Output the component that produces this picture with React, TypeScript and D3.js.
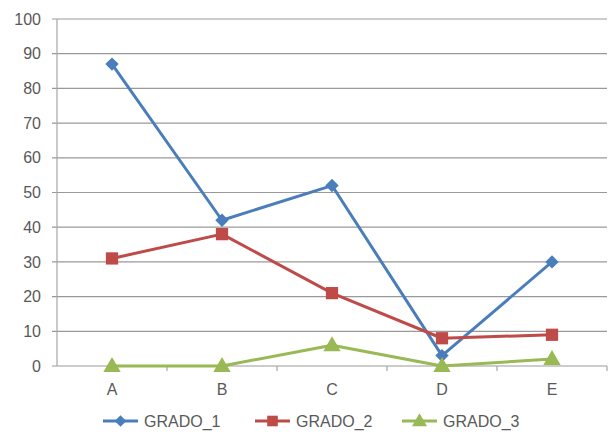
import React from "react";
import * as d3 from "d3";

const categories = ["A", "B", "C", "D", "E"];
const grado1 = [87, 42, 52, 3, 30];
const grado2 = [31, 38, 21, 8, 9];
const grado3 = [0, 0, 6, 0, 2];
const yTicks = [0, 10, 20, 30, 40, 50, 60, 70, 80, 90, 100];
const seriesNames = ["GRADO_1", "GRADO_2", "GRADO_3"];

const W = 613;
const H = 435;
const left = 57;
const right = 607;
const top = 19;
const bottom = 366;

const colors = ["#4A7EBB", "#BE4B48", "#98B954"];
// diamond is drawn as a square turned 45 degrees
const symbols = [d3.symbolSquare, d3.symbolSquare, d3.symbolTriangle];
const symbolSizes = [90, 150, 130];
const rotations = [45, 0, 0];
const FONT = "'Liberation Sans', Arial, sans-serif";

export default function App() {
  const x = d3.scaleBand<string>().domain(categories).range([left, right]);
  const y = d3.scaleLinear().domain([0, 100]).range([bottom, top]);
  const cx = (c: string) => (x(c) as number) + x.bandwidth() / 2;
  const all = [grado1, grado2, grado3];
  const line = d3
    .line<number>()
    .x((_, i) => cx(categories[i]))
    .y((v) => y(v));

  const legendX = [103, 255, 402];
  const legendY = 421;

  return (
    <svg
      width={W}
      height={H}
      style={{ position: "absolute", left: 0, top: 0, background: "#fff" }}
    >
      {/* gridlines */}
      {yTicks.map((t) => (
        <line
          key={"g" + t}
          x1={left - 5}
          x2={right}
          y1={y(t)}
          y2={y(t)}
          stroke="#999999"
          strokeWidth={1.2}
        />
      ))}
      {/* y axis */}
      <line x1={left} x2={left} y1={top} y2={bottom} stroke="#A6A6A6" strokeWidth={1.2} />
      {/* x axis ticks between categories */}
      {categories.map((c, i) => (
        <line
          key={"xt" + i}
          x1={(x(c) as number) + x.bandwidth()}
          x2={(x(c) as number) + x.bandwidth()}
          y1={bottom}
          y2={bottom + 5}
          stroke="#A6A6A6"
          strokeWidth={1.2}
        />
      ))}
      {yTicks.map((t) => (
        <text
          key={"yl" + t}
          x={41}
          y={y(t)}
          dy="0.35em"
          textAnchor="end"
          fontFamily={FONT}
          fontSize={16}
          fill="#595959"
        >
          {t}
        </text>
      ))}
      {categories.map((c) => (
        <text
          key={"xl" + c}
          x={cx(c)}
          y={389}
          dy="0.35em"
          textAnchor="middle"
          fontFamily={FONT}
          fontSize={16}
          fill="#595959"
        >
          {c}
        </text>
      ))}
      {all.map((s, k) => (
        <g key={"s" + k}>
          <path d={line(s) ?? ""} fill="none" stroke={colors[k]} strokeWidth={3} strokeLinejoin="round" />
          {s.map((v, i) => (
            <path
              key={i}
              d={d3.symbol(symbols[k], symbolSizes[k])() ?? ""}
              transform={`translate(${cx(categories[i])},${y(v) + (k === 2 ? 1 : 0)}) rotate(${rotations[k]})`}
              fill={colors[k]}
            />
          ))}
        </g>
      ))}
      {/* legend */}
      {seriesNames.map((n, k) => (
        <g key={"lg" + k} transform={`translate(${legendX[k]},${legendY})`}>
          <line x1={0} x2={35} y1={0} y2={0} stroke={colors[k]} strokeWidth={3} />
          <path
            d={d3.symbol(symbols[k], symbolSizes[k] * 0.75)() ?? ""}
            transform={`translate(17.5,${k === 2 ? 1 : 0}) rotate(${rotations[k]})`}
            fill={colors[k]}
          />
          <text x={41} y={0} dy="0.35em" fontFamily={FONT} fontSize={16} fill="#595959">
            {n}
          </text>
        </g>
      ))}
    </svg>
  );
}
